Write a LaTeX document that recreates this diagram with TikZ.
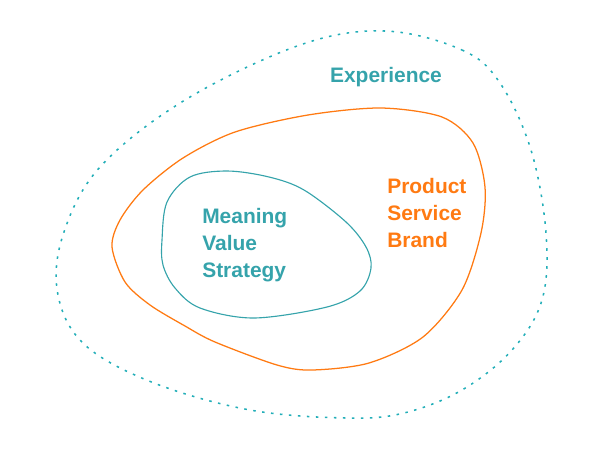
\documentclass[tikz,border=0pt]{standalone}
\usepackage{fontspec}
\setmainfont{Liberation Sans}
\definecolor{tealc}{HTML}{35A3AB}
\definecolor{dotc}{HTML}{22AEB8}
\definecolor{orangec}{HTML}{FF7A12}
\tikzset{
    lbl/.style={font=\fontsize{14.9pt}{19.2pt}\selectfont\bfseries, align=left, inner sep=0pt},
}
\begin{document}
\begin{tikzpicture}[x=0.025cm, y=-0.025cm]

    \useasboundingbox (0,0) rectangle (600,450);

    % exterior: experiencia (punteado)
    \draw[dotc, line width=1.1pt, dash pattern=on 1.8pt off 4.6pt]
        plot[smooth cycle, tension=0.6] coordinates {
            (385,31) (462,50) (500,83) (531,150) (546,233) (542,300)
            (512,350) (462,390) (404,413) (346,418) (250,410) (154,383)
            (85,345) (58,295) (63,235) (100,167) (185,100) (300,45)};

    % medio: producto / servicio / marca
    \draw[orangec, line width=0.9pt]
        plot[smooth cycle, tension=0.5] coordinates {
            (235,132) (308,115) (381,108) (442,117) (473,143) (485,187)
            (481,233) (462,290) (423,337) (369,363) (312,370) (277,365)
            (215,342) (185,326) (150,305) (125,282) (112,247) (120,220)
            (143,190) (183,158)};

    % interior: significado
    \draw[tealc, line width=0.8pt]
        plot[smooth cycle, tension=0.55] coordinates {
            (227,171) (269,177) (304,190) (346,222) (366,247) (371,268)
            (360,291) (327,307) (254,318) (200,308) (175,288) (163,265)
            (162,240) (167,202) (190,177)};

    % etiquetas
    \node[lbl, tealc] (experience) at (386,77) {Experience};
    \node[lbl, orangec, anchor=west] (offer) at (387,213) {Product\\Service\\Brand};
    \node[lbl, tealc, anchor=west] (core) at (202,245) {Meaning\\Value\\Strategy};

\end{tikzpicture}
\end{document}
